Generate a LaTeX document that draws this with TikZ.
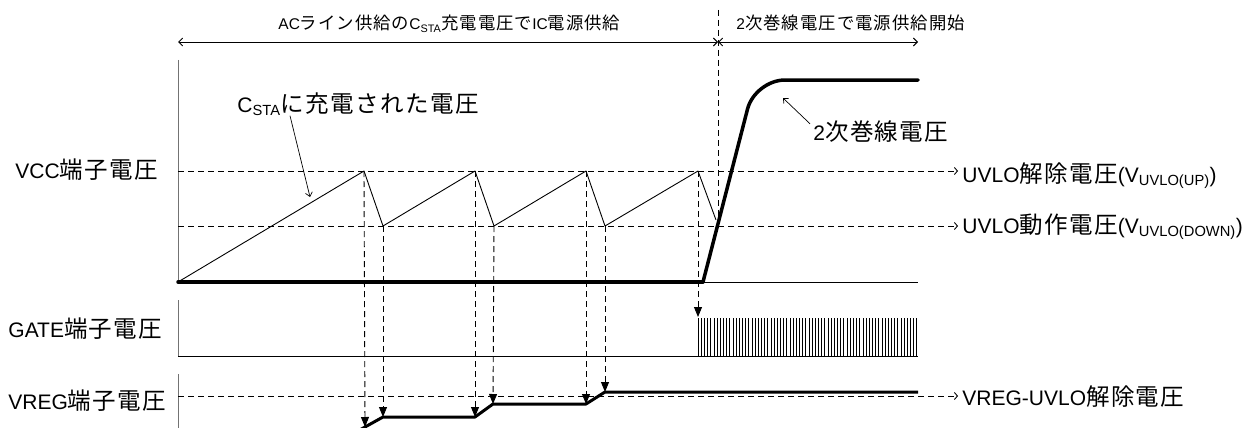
\documentclass[tikz,border=0pt]{standalone}
\usepackage{fontspec}
\setmainfont{Liberation Sans}
\newfontfamily\jp{Noto Sans CJK JP}[Scale=1.12, LetterSpace=6]
\usetikzlibrary{arrows.meta}

\def\pulsesep{3.17}

\begin{document}
\begin{tikzpicture}[x=1pt, y=-1pt, line join=round, line width=0.9pt]
		\tikzstyle{axis}
		=[draw=black!55, line width=1pt]
		\tikzstyle{level}
		=[dash pattern=on 6pt off 4pt, -{Straight Barb[length=3pt,width=7pt]}]
		\tikzstyle{drop}
		=[dash pattern=on 6pt off 4pt, -{Triangle[length=10pt,width=8pt]}]
		\tikzstyle{heavy}
		=[line width=3.5pt, line cap=round]
		\tikzstyle{note}
		=[-{Straight Barb[length=4pt,width=7pt]}, line width=0.7pt]
		\tikzstyle{big}
		=[font=\fontsize{21}{25}\selectfont, inner sep=0pt]
		\tikzstyle{small}
		=[font=\fontsize{15.5}{18}\selectfont, inner sep=0pt]
		
		\useasboundingbox (0,0) rectangle (1260,428);
		
		% Draw the phase labels and the span arrows
		\node[small, anchor=base west] (ac) at (278,30)
		{AC{\jp ライン供給の}C\textsubscript{STA}{\jp 充電電圧で}IC{\jp 電源供給}};
		\node[small, anchor=base west] (sec) at (736,30) {2{\jp 次巻線電圧で電源供給開始}};
		\coordinate (sl) at (178,42);
		\coordinate (sm) at (718,42);
		\coordinate (sr) at (918,42);
		\foreach \a / \b in {sl/sm, sm/sr}
		\draw[{Straight Barb[length=4pt,width=8pt]}-{Straight Barb[length=4pt,width=8pt]}] (\a) -- (\b);
		\coordinate (bt) at (718,10);
		\coordinate (bb) at (718,222);
		\draw[dash pattern=on 6pt off 4pt] (bt) -- (bb);
		
		% Draw the axes of the three traces
		\draw[axis] (178,60) -- (178,282);
		\draw[axis] (178,300) -- (178,356);
		\draw[axis] (178,374) -- (178,430);
		\node[big, anchor=base west] (vcc) at (15,178) {VCC{\jp 端子電圧}};
		\node[big, anchor=base west] (gate) at (8,337) {GATE{\jp 端子電圧}};
		\node[big, anchor=base west] (vreg) at (8,409) {VREG{\jp 端子電圧}};
		
		% Draw the threshold levels
		\foreach \name / \y in {up/171, dn/226, rg/396} {
			\coordinate (\name l) at (178,\y);
			\coordinate (\name r) at (958,\y);
			\draw[level] (\name l) -- (\name r);
		}
		\node[big, anchor=base west] (uvloup) at (962,182) {UVLO{\jp 解除電圧}(V\textsubscript{UVLO(UP)})};
		\node[big, anchor=base west] (uvlodn) at (962,233) {UVLO{\jp 動作電圧}(V\textsubscript{UVLO(DOWN)})};
		\node[big, anchor=base west] (vreguvlo) at (962,405) {VREG-UVLO{\jp 解除電圧}};
		
		% Draw the VCC trace: C_STA sawtooth and the winding voltage
		\foreach \n / \x in {1/364, 2/475, 3/586, 4/698} {
			\coordinate (p\n) at (\x,171);
			\coordinate (v\n) at (\x+19,226);
		}
		\coordinate (c0) at (178,282);
		\coordinate (ck) at (703,282);
		\draw (c0) -- (p1) -- (v1) -- (p2) -- (v2) -- (p3) -- (v3) -- (p4) -- (716,220);
		\draw (ck) -- (918,282);
		\draw[heavy] (c0) -- (ck);
		\draw[heavy] (ck) [rounded corners=30pt] -- (755,80) -- (918,80);
		
		% Annotate the VCC trace
		\node[big, anchor=base west] (csta) at (237,112) {C\textsubscript{STA}{\jp に充電された電圧}};
		\node[big, anchor=base west] (wind) at (813,140) {2{\jp 次巻線電圧}};
		\coordinate (cstatip) at (310,197);
		\coordinate (windtip) at (783,98);
		\draw[note] ([xshift=53pt]csta.south west) -- (cstatip);
		\draw[note] ([shift={(-3,4)}]wind.north west) -- (windtip);
		
		% Draw the GATE pulses
		\draw (178,356) -- (918,356);
		\foreach \i in {0,...,69}
		\draw[line width=0.7pt] ({698+\i*\pulsesep},318) -- ({698+\i*\pulsesep},356);
		
		% Draw the VREG trace
		\foreach \name / \x / \y in {r0/365/427, r1/383/417, r2/475/417, r3/493/404, r4/586/404, r5/605/392, r6/918/392}
		\coordinate (\name) at (\x,\y);
		\draw[line width=3pt] (358,431) -- (r0) -- (r1) -- (r2) -- (r3) -- (r4) -- (r5) -- (r6);
		
		% Connect the VCC turning points with the VREG steps and the GATE start
		\coordinate (g0) at (698,317);
		\foreach \source / \dest in {p1/r0, v1/r1, p2/r2, v2/r3, p3/r4, v3/r5, p4/g0}
		\draw[drop] (\source) -- (\dest);
	\end{tikzpicture}
\end{document}
